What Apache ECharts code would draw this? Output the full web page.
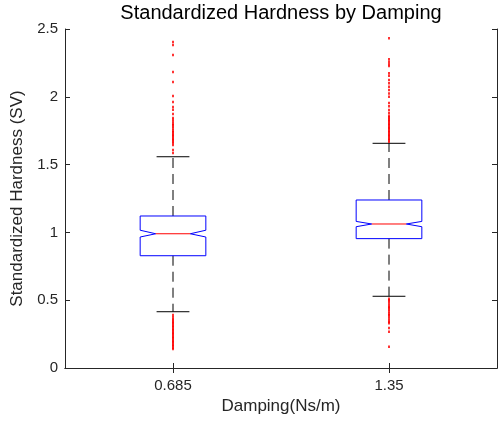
<!DOCTYPE html>
<html>
<head>
<meta charset="utf-8">
<script src="https://cdn.jsdelivr.net/npm/echarts@6/dist/echarts.min.js"></script>
<style>
  html, body { margin: 0; padding: 0; background: #fff; }
  #chart { width: 498px; height: 421px; }
</style>
</head>
<body>
<div id="chart"></div>
<script>
// Damping levels (x categories)
const categories = ['0.685', '1.35'];

// Box statistics per damping level
const lowerWhisker = [0.415, 0.529];
const q1 = [0.828, 0.954];
const median = [0.990, 1.062];
const q3 = [1.121, 1.239];
const upperWhisker = [1.558, 1.657];
const notchLow = [0.966, 1.042];
const notchHigh = [1.016, 1.081];

// Outliers beyond the whiskers
const outliers0685 = [
  2.404, 2.382, 2.308, 2.183, 2.109, 2.006, 1.962, 1.925, 1.905, 1.873,
  1.844, 1.830, 1.815, 1.800, 1.790, 1.780, 1.765, 1.750, 1.740, 1.730,
  1.720, 1.710, 1.700, 1.690, 1.680, 1.670, 1.660, 1.645, 1.608, 1.586,
  0.390, 0.375, 0.360, 0.350, 0.340, 0.330, 0.320, 0.310, 0.300, 0.290,
  0.280, 0.270, 0.260, 0.250, 0.240, 0.230, 0.220, 0.210, 0.200, 0.190,
  0.180, 0.170, 0.160, 0.150, 0.140
];
const outliers135 = [
  2.431, 2.277, 2.259, 2.240, 2.227, 2.173, 2.156, 2.124, 2.100, 2.075,
  2.050, 2.025, 2.000, 1.954, 1.930, 1.903, 1.880, 1.860, 1.850, 1.840,
  1.830, 1.820, 1.810, 1.800, 1.790, 1.780, 1.770, 1.760, 1.750, 1.740,
  1.730, 1.720, 1.710, 1.700, 1.690, 1.680, 1.669,
  0.510, 0.500, 0.490, 0.475, 0.460, 0.450, 0.440, 0.430, 0.415, 0.400,
  0.390, 0.380, 0.365, 0.350, 0.340, 0.330, 0.295, 0.268, 0.157
];

// Y-axis tick values
const yTicks = [0, 0.5, 1, 1.5, 2, 2.5];

const FONT = 'Liberation Sans';
const AXIS_COLOR = '#262626';

const boxData = categories.map((_, i) => [
  i, lowerWhisker[i], q1[i], median[i], q3[i], upperWhisker[i], notchLow[i], notchHigh[i]
]);

const outlierData = []
  .concat(outliers0685.map(v => [0, v]))
  .concat(outliers135.map(v => [1, v]));

function renderNotchedBox(params, api) {
  const idx = api.value(0);
  const pt = v => api.coord([idx, v]);
  const cx = pt(api.value(3))[0];
  const band = api.size([1, 0])[0];
  const hw = band * 0.152;   // half box width
  const nw = band * 0.080;   // half width at the notch waist
  const cw = band * 0.076;   // half whisker-cap width

  const yLW = pt(api.value(1))[1];
  const yQ1 = pt(api.value(2))[1];
  const yMed = pt(api.value(3))[1];
  const yQ3 = pt(api.value(4))[1];
  const yUW = pt(api.value(5))[1];
  const yNLo = pt(api.value(6))[1];
  const yNHi = pt(api.value(7))[1];

  const whiskerStyle = { stroke: '#000', lineWidth: 1, lineDash: [10, 6] };
  const capStyle = { stroke: '#000', lineWidth: 1 };

  return {
    type: 'group',
    children: [
      { type: 'line', shape: { x1: cx, y1: yQ3, x2: cx, y2: yUW }, style: whiskerStyle },
      { type: 'line', shape: { x1: cx, y1: yQ1, x2: cx, y2: yLW }, style: whiskerStyle },
      { type: 'line', shape: { x1: cx - cw, y1: yUW, x2: cx + cw, y2: yUW }, style: capStyle },
      { type: 'line', shape: { x1: cx - cw, y1: yLW, x2: cx + cw, y2: yLW }, style: capStyle },
      {
        type: 'polygon',
        shape: {
          points: [
            [cx - hw, yQ3], [cx + hw, yQ3], [cx + hw, yNHi], [cx + nw, yMed],
            [cx + hw, yNLo], [cx + hw, yQ1], [cx - hw, yQ1], [cx - hw, yNLo],
            [cx - nw, yMed], [cx - hw, yNHi]
          ]
        },
        style: { fill: 'none', stroke: '#0000ff', lineWidth: 1 }
      },
      { type: 'line', shape: { x1: cx - nw, y1: yMed, x2: cx + nw, y2: yMed }, style: { stroke: '#ff0000', lineWidth: 1 } }
    ]
  };
}

const chart = echarts.init(document.getElementById('chart'), null, { renderer: 'canvas' });

const xAxisBase = {
  type: 'category',
  data: categories,
  boundaryGap: true,
  axisLine: { show: true, lineStyle: { color: AXIS_COLOR, width: 1 } },
  axisTick: { show: true, inside: true, alignWithLabel: true, length: 5, lineStyle: { color: AXIS_COLOR } },
  splitLine: { show: false }
};
const yAxisBase = {
  type: 'value',
  min: yTicks[0],
  max: yTicks[yTicks.length - 1],
  interval: 0.5,
  axisLine: { show: true, lineStyle: { color: AXIS_COLOR, width: 1 } },
  axisTick: { show: true, inside: true, length: 5, lineStyle: { color: AXIS_COLOR } },
  splitLine: { show: false }
};

chart.setOption({
  animation: false,
  backgroundColor: '#fff',
  grid: { left: 65, right: 1, top: 29, bottom: 53, containLabel: false },
  graphic: [{
    type: 'text',
    x: 281,
    y: 13,
    style: {
      text: 'Standardized Hardness by Damping',
      fontFamily: FONT,
      fontSize: 20,
      fill: '#000',
      align: 'center',
      verticalAlign: 'middle'
    }
  }],
  xAxis: [
    Object.assign({}, xAxisBase, {
      position: 'bottom',
      axisLabel: { color: AXIS_COLOR, fontFamily: FONT, fontSize: 15, margin: 10 },
      name: 'Damping(Ns/m)',
      nameLocation: 'middle',
      nameGap: 19,
      nameTextStyle: { color: AXIS_COLOR, fontFamily: FONT, fontSize: 17 }
    }),
    Object.assign({}, xAxisBase, {
      position: 'top',
      axisLabel: { show: false }
    })
  ],
  yAxis: [
    Object.assign({}, yAxisBase, {
      position: 'left',
      axisLabel: { color: AXIS_COLOR, fontFamily: FONT, fontSize: 15, margin: 7 },
      name: 'Standardized Hardness (SV)',
      nameLocation: 'middle',
      nameRotate: 90,
      nameGap: 32,
      nameTextStyle: { color: AXIS_COLOR, fontFamily: FONT, fontSize: 17 }
    }),
    Object.assign({}, yAxisBase, {
      position: 'right',
      axisLabel: { show: false }
    })
  ],
  series: [
    {
      type: 'custom',
      name: 'boxes',
      xAxisIndex: 0,
      yAxisIndex: 0,
      renderItem: renderNotchedBox,
      encode: { x: 0, y: [1, 2, 3, 4, 5] },
      data: boxData,
      z: 3
    },
    {
      type: 'scatter',
      name: 'outliers',
      xAxisIndex: 0,
      yAxisIndex: 0,
      symbol: 'rect',
      symbolSize: [2, 2.5],
      itemStyle: { color: '#ff0000' },
      data: outlierData,
      z: 4
    }
  ]
});
</script>
</body>
</html>
